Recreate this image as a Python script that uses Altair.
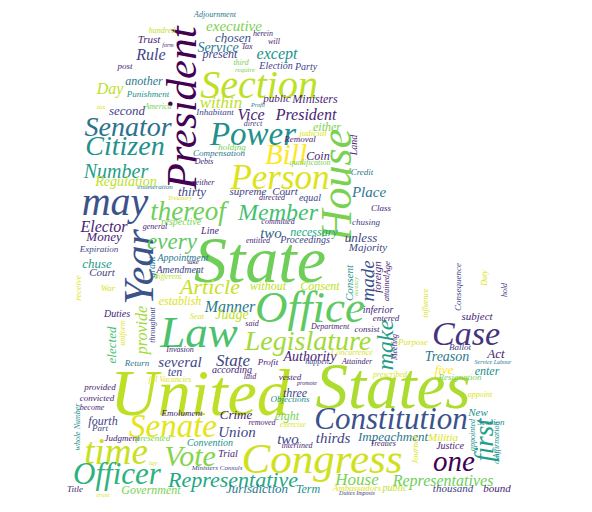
import altair as alt
import pandas as pd

# (word, x, y, font size, angle, colour)
big_words = [
    ("President", 183, 108, 43, 270, "#440154"),
    ("Section", 259, 86, 40, 0, "#bddf26"),
    ("Power", 253, 135, 33, 0, "#21918c"),
    ("Person", 280, 178, 35, 0, "#dde318"),
    ("House", 338, 185, 44, 270, "#7ad151"),
    ("Senator", 128, 128, 28, 0, "#2c728e"),
    ("Citizen", 125, 147, 28, 0, "#21918c"),
    ("may", 115, 203, 40, 0, "#3b528b"),
    ("Year", 140, 267, 42, 270, "#3b528b"),
    ("thereof", 188, 212, 27, 0, "#6ece58"),
    ("Member", 278, 213, 24, 0, "#44bf70"),
    ("State", 260, 262, 66, 0, "#6ece58"),
    ("Office", 310, 308, 45, 0, "#5ec962"),
    ("Law", 199, 333, 45, 0, "#4ac16d"),
    ("Legislature", 308, 342, 28, 0, "#a2da37"),
    ("Case", 466, 335, 34, 0, "#46337e"),
    ("United", 200, 395, 66, 0, "#bddf26"),
    ("States", 393, 388, 65, 0, "#addc30"),
    ("Constitution", 391, 420, 31, 0, "#3b528b"),
    ("Senate", 173, 427, 33, 0, "#e5e419"),
    ("Congress", 322, 460, 43, 0, "#d0e11c"),
    ("time", 116, 453, 37, 0, "#c8e020"),
    ("Vote", 190, 457, 30, 0, "#86d549"),
    ("Officer", 117, 475, 31, 0, "#2db27d"),
    ("Representative", 233, 480, 22, 0, "#22a884"),
    ("one", 454, 462, 29, 0, "#440154"),
    ("first", 485, 440, 27, 270, "#1f9e89"),
    ("Bill", 286, 155, 29, 0, "#fde725"),
]

mid_words = [
    ("Number", 116, 172, 20, 0, "#1f9e89"),
    ("every", 172, 242, 23, 0, "#5ec962"),
    ("Article", 210, 287, 22, 0, "#c8e020"),
    ("executive", 234, 26, 15, 0, "#7ad151"),
    ("chosen", 233, 38, 13, 0, "#3b528b"),
    ("Service", 218, 48, 14, 0, "#2a788e"),
    ("present", 220, 54, 12, 0, "#414487"),
    ("Rule", 151, 55, 16, 0, "#414487"),
    ("except", 277, 54, 16, 0, "#21918c"),
    ("another", 144, 81, 12, 0, "#2a788e"),
    ("Day", 110, 89, 16, 0, "#bddf26"),
    ("second", 127, 111, 13, 0, "#414487"),
    ("within", 221, 103, 17, 0, "#bddf26"),
    ("Vice", 251, 115, 16, 0, "#482475"),
    ("President", 306, 115, 16, 0, "#482475"),
    ("either", 327, 127, 12, 0, "#7ad151"),
    ("Coin", 318, 156, 12, 0, "#482475"),
    ("Regulation", 126, 182, 14, 0, "#bddf26"),
    ("thirty", 192, 192, 13, 0, "#414487"),
    ("respective", 181, 222, 10, 0, "#7ad151"),
    ("Elector", 104, 227, 16, 0, "#482475"),
    ("Money", 104, 237, 13, 0, "#482475"),
    ("chuse", 97, 264, 13, 0, "#1f9e89"),
    ("establish", 180, 301, 12, 0, "#dde318"),
    ("Manner", 230, 307, 16, 0, "#2a788e"),
    ("Judge", 232, 315, 14, 0, "#bddf26"),
    ("provide", 142, 330, 16, 270, "#a2da37"),
    ("elected", 112, 345, 13, 270, "#44bf70"),
    ("several", 180, 362, 15, 0, "#414487"),
    ("State", 233, 361, 17, 0, "#414487"),
    ("ten", 175, 372, 12, 0, "#414487"),
    ("Crime", 236, 415, 13, 0, "#482475"),
    ("Union", 237, 432, 15, 0, "#414487"),
    ("fourth", 103, 421, 12, 0, "#414487"),
    ("Government", 151, 490, 12, 0, "#7ad151"),
    ("Jurisdiction", 257, 489, 13, 0, "#2a788e"),
    ("Place", 369, 192, 15, 0, "#2a788e"),
    ("two", 271, 233, 15, 0, "#355f8d"),
    ("necessary", 314, 232, 12, 0, "#22a884"),
    ("unless", 361, 238, 13, 0, "#414487"),
    ("Majority", 368, 248, 11, 0, "#414487"),
    ("made", 368, 281, 19, 270, "#3b528b"),
    ("foreign", 378, 277, 11, 270, "#482475"),
    ("without", 268, 286, 12, 0, "#bddf26"),
    ("Consent", 320, 286, 12, 0, "#bddf26"),
    ("make", 386, 345, 24, 270, "#1f9e89"),
    ("Authority", 310, 357, 14, 0, "#482475"),
    ("Treason", 447, 357, 14, 0, "#2a788e"),
    ("subject", 477, 317, 11, 0, "#482475"),
    ("Act", 496, 354, 13, 0, "#482475"),
    ("five", 444, 370, 13, 0, "#fde725"),
    ("enter", 487, 371, 12, 0, "#21918c"),
    ("three", 295, 393, 12, 0, "#414487"),
    ("eight", 287, 416, 12, 0, "#7ad151"),
    ("New", 478, 413, 11, 0, "#21918c"),
    ("two", 288, 439, 15, 0, "#414487"),
    ("thirds", 333, 438, 15, 0, "#414487"),
    ("Impeachment", 393, 437, 13, 0, "#2a788e"),
    ("House", 357, 480, 17, 0, "#7ad151"),
    ("Representatives", 443, 481, 16, 0, "#6ece58"),
    ("Term", 308, 489, 12, 0, "#21918c"),
    ("Election", 276, 66, 10, 0, "#414487"),
    ("Party", 306, 67, 10, 0, "#414487"),
    ("public", 277, 99, 11, 0, "#482475"),
    ("Ministers", 315, 99, 12, 0, "#482475"),
    ("Amendment", 180, 270, 10, 0, "#414487"),
    ("Appointment", 183, 258, 10, 0, "#2a788e"),
]

small_words = [
    ("Adjournment", 215, 15, 8, 0, "#2a788e"),
    ("hundred", 162, 31, 8, 0, "#bddf26"),
    ("Trust", 149, 40, 11, 0, "#482475"),
    ("herein", 263, 34, 8, 0, "#482475"),
    ("will", 274, 42, 8, 0, "#482475"),
    ("form", 168, 45, 6, 0, "#482475"),
    ("Tax", 247, 47, 8, 0, "#482475"),
    ("post", 125, 66, 9, 0, "#482475"),
    ("third", 241, 63, 8, 0, "#7ad151"),
    ("require", 245, 70, 7, 0, "#7ad151"),
    ("Punishment", 148, 94, 9, 0, "#21918c"),
    ("tax", 101, 107, 7, 0, "#dde318"),
    ("America", 158, 107, 8, 0, "#7ad151"),
    ("Profit", 258, 105, 6, 0, "#2a788e"),
    ("Inhabitant", 215, 112, 9, 0, "#414487"),
    ("direct", 253, 124, 8, 0, "#414487"),
    ("judicial", 313, 133, 9, 0, "#dde318"),
    ("Removal", 300, 139, 9, 0, "#482475"),
    ("holding", 232, 147, 9, 0, "#7ad151"),
    ("Compensation", 219, 153, 9, 0, "#2a788e"),
    ("Debts", 204, 162, 8, 0, "#482475"),
    ("qualification", 310, 163, 8, 0, "#7ad151"),
    ("Land", 354, 145, 10, 270, "#482475"),
    ("Credit", 362, 172, 9, 0, "#2a788e"),
    ("enumeration", 155, 187, 7, 0, "#2a788e"),
    ("neither", 203, 183, 8, 0, "#482475"),
    ("Treasury", 180, 198, 7, 0, "#dde318"),
    ("general", 155, 227, 8, 0, "#482475"),
    ("Line", 210, 231, 10, 0, "#482475"),
    ("Expiration", 99, 249, 9, 0, "#414487"),
    ("grant", 152, 267, 10, 270, "#2a788e"),
    ("take", 193, 262, 7, 0, "#482475"),
    ("Court", 102, 273, 11, 0, "#414487"),
    ("different", 168, 277, 8, 0, "#bddf26"),
    ("War", 108, 288, 9, 0, "#dde318"),
    ("receive", 78, 288, 9, 270, "#dde318"),
    ("Duties", 117, 314, 10, 0, "#482475"),
    ("throughout", 153, 325, 8, 270, "#414487"),
    ("uniform", 123, 333, 8, 270, "#dde318"),
    ("Seat", 197, 317, 8, 0, "#dde318"),
    ("said", 252, 324, 8, 0, "#482475"),
    ("Invasion", 180, 350, 8, 0, "#482475"),
    ("Return", 137, 363, 9, 0, "#2a788e"),
    ("Profit", 268, 362, 9, 0, "#482475"),
    ("according", 232, 370, 10, 0, "#482475"),
    ("laid", 250, 377, 8, 0, "#482475"),
    ("fill Vacancies", 170, 380, 8, 0, "#dde318"),
    ("provided", 100, 387, 9, 0, "#482475"),
    ("convicted", 97, 398, 9, 0, "#482475"),
    ("become", 92, 408, 8, 0, "#482475"),
    ("Emolument", 182, 413, 9, 0, "#482475"),
    ("removed", 262, 423, 8, 0, "#482475"),
    ("Part", 100, 428, 9, 0, "#414487"),
    ("whole Number", 78, 427, 8, 270, "#21918c"),
    ("Judgment", 122, 438, 9, 0, "#482475"),
    ("presented", 153, 438, 9, 0, "#7ad151"),
    ("Convention", 210, 443, 10, 0, "#21918c"),
    ("Trial", 228, 454, 10, 0, "#482475"),
    ("lay", 153, 463, 7, 0, "#dde318"),
    ("Ministers Consuls", 217, 468, 7, 0, "#414487"),
    ("Title", 75, 489, 9, 0, "#482475"),
    ("trust", 103, 495, 7, 0, "#dde318"),
    ("supreme", 248, 192, 11, 0, "#414487"),
    ("Court", 285, 192, 11, 0, "#414487"),
    ("directed", 272, 198, 8, 0, "#482475"),
    ("equal", 310, 198, 10, 0, "#414487"),
    ("Class", 381, 208, 9, 0, "#482475"),
    ("committed", 278, 222, 8, 0, "#482475"),
    ("chusing", 366, 222, 9, 0, "#414487"),
    ("entitled", 258, 241, 8, 0, "#482475"),
    ("Proceedings", 305, 240, 10, 0, "#414487"),
    ("Age", 387, 268, 9, 270, "#482475"),
    ("attained", 387, 288, 8, 270, "#482475"),
    ("Consent", 350, 283, 11, 270, "#21918c"),
    ("vacancy", 356, 287, 6, 270, "#7ad151"),
    ("inferior", 378, 310, 10, 0, "#482475"),
    ("entered", 386, 318, 9, 0, "#482475"),
    ("Consequence", 458, 287, 9, 270, "#414487"),
    ("influence", 426, 303, 8, 270, "#dde318"),
    ("Department", 330, 327, 8, 0, "#482475"),
    ("consist", 367, 329, 9, 0, "#482475"),
    ("Meeting", 395, 347, 8, 270, "#482475"),
    ("Purpose", 413, 342, 9, 0, "#dde318"),
    ("Ballot", 460, 347, 9, 0, "#414487"),
    ("Concurrence", 352, 353, 8, 0, "#dde318"),
    ("Attainder", 357, 362, 8, 0, "#482475"),
    ("happen", 317, 362, 8, 0, "#414487"),
    ("Service Labour", 493, 362, 6, 0, "#2a788e"),
    ("Resignation", 460, 377, 9, 0, "#7ad151"),
    ("vested", 290, 377, 9, 0, "#482475"),
    ("promote", 307, 383, 6, 0, "#482475"),
    ("prescribed", 390, 375, 8, 0, "#dde318"),
    ("appoint", 480, 395, 8, 0, "#dde318"),
    ("Objections", 290, 399, 9, 0, "#21918c"),
    ("exercise", 293, 425, 8, 0, "#dde318"),
    ("Session", 491, 422, 9, 0, "#21918c"),
    ("appointed", 473, 435, 8, 270, "#21918c"),
    ("Militia", 443, 438, 11, 0, "#dde318"),
    ("Affirmation", 497, 440, 8, 270, "#21918c"),
    ("interlined", 297, 446, 8, 0, "#482475"),
    ("Treaties", 383, 444, 8, 0, "#482475"),
    ("Justice", 450, 446, 10, 0, "#482475"),
    ("Journal", 415, 450, 9, 270, "#dde318"),
    ("Oath", 497, 457, 7, 270, "#21918c"),
    ("Ambassadors", 357, 488, 9, 0, "#dde318"),
    ("public", 395, 488, 10, 0, "#bddf26"),
    ("Duties Imposts", 357, 493, 6, 0, "#414487"),
    ("thousand", 453, 489, 11, 0, "#414487"),
    ("bound", 497, 489, 11, 0, "#482475"),
    ("Duty", 485, 278, 8, 270, "#dde318"),
    ("hold", 505, 290, 8, 270, "#414487"),
]

colunas = ["word", "x", "y", "size", "angle", "color"]
df = pd.DataFrame(big_words + mid_words + small_words, columns=colunas)

chart = alt.Chart(df).mark_text(
    font="Liberation Serif",
    fontStyle="italic",
    align="center",
    baseline="middle"
).encode(
    x=alt.X("x:Q", scale=alt.Scale(domain=[8, 584], nice=False, zero=False), axis=None),
    y=alt.Y("y:Q", scale=alt.Scale(domain=[8, 504], nice=False, zero=False, reverse=True), axis=None),
    text="word:N",
    size=alt.Size("size:Q", scale=None, legend=None),
    angle=alt.Angle("angle:Q", scale=None),
    color=alt.Color("color:N", scale=None)
).properties(
    width=576,
    height=496,
    padding=0,
    autosize="none",
    background="white"
).configure_view(
    stroke=None
)

chart.save("out.html", embed_options={"renderer": "svg", "actions": False})
